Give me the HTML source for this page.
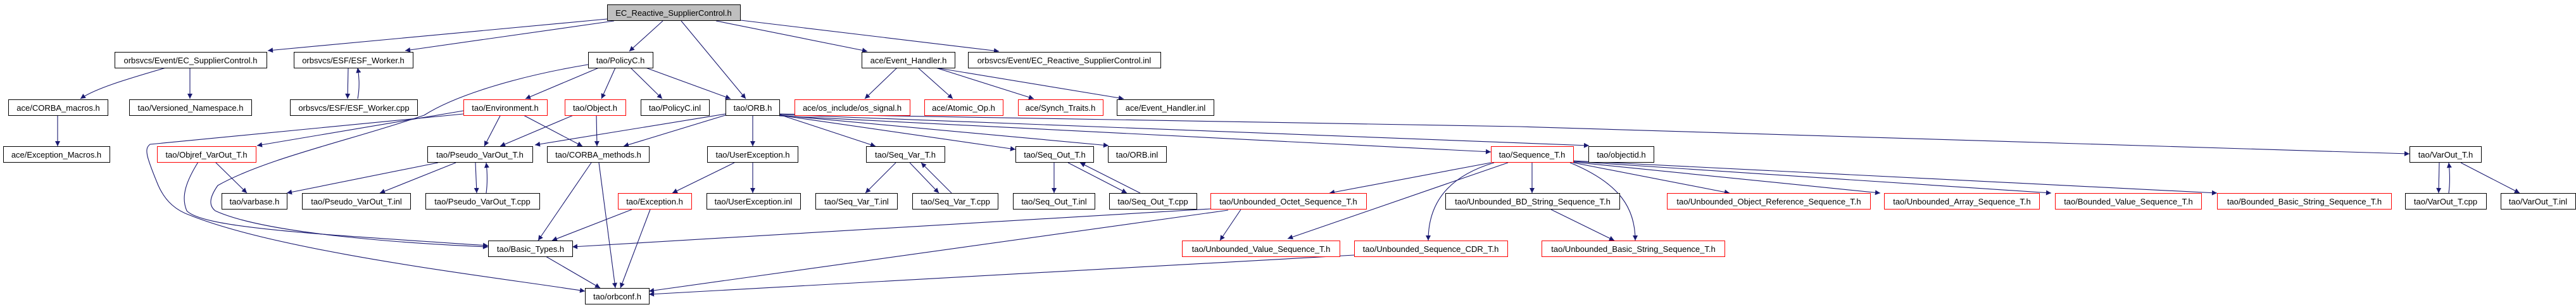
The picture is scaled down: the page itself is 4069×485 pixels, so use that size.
<!DOCTYPE html>
<html><head><meta charset="utf-8"><style>
html,body{margin:0;padding:0;background:#fff;}
svg{display:block;}
text{font-family:"Liberation Sans",sans-serif;font-size:13px;fill:#000;}
.e{fill:none;stroke:#191970;stroke-width:1.1;}
</style></head><body>
<svg width="4069" height="485" viewBox="0 0 4069 485" xmlns="http://www.w3.org/2000/svg">
<defs><marker id="a" viewBox="0 0 10 10" refX="10" refY="5" markerWidth="10" markerHeight="8" markerUnits="userSpaceOnUse" orient="auto"><path d="M0,0 L10,5 L0,10 z" fill="#191970"/></marker></defs>
<g marker-end="url(#a)">
<path class="e" d="M959,30 L423,80"/>
<path class="e" d="M970,33 L640,80"/>
<path class="e" d="M1047,33 L994,81"/>
<path class="e" d="M1076,33 L1178,156"/>
<path class="e" d="M1131,33 L1370,81"/>
<path class="e" d="M1170,32 L1578,81"/>
<path class="e" d="M262,107 C200,125 150,140 127,156"/>
<path class="e" d="M300,107 L300,156"/>
<path class="e" d="M91,181 L91,231"/>
<path class="e" d="M550,107 L549,156"/>
<path class="e" d="M565,156 C568,140 568,125 565,107"/>
<path class="e" d="M946,107 L830,156"/>
<path class="e" d="M972,107 L950,156"/>
<path class="e" d="M996,107 L1046,156"/>
<path class="e" d="M1020,107 L1154,156"/>
<path class="e" d="M929,102 C820,120 720,150 670,182 C560,220 420,250 344,293 C330,313 330,325 340,333 C420,370 650,385 771,390"/>
<path class="e" d="M732,175 L406,230"/>
<path class="e" d="M732,180 L237,228 C228,235 230,245 250,293 C262,320 280,333 300,340 C450,400 800,440 924,460"/>
<path class="e" d="M340,256 L390,305"/>
<path class="e" d="M313,256 C295,285 285,310 295,333 C320,360 500,370 771,388"/>
<path class="e" d="M791,181 L765,231"/>
<path class="e" d="M825,181 L920,231"/>
<path class="e" d="M908,181 L790,231"/>
<path class="e" d="M942,181 L943,231"/>
<path class="e" d="M1146,180 L845,229"/>
<path class="e" d="M1146,182 L985,231"/>
<path class="e" d="M1189,181 L1189,231"/>
<path class="e" d="M1231,181 L1383,231"/>
<path class="e" d="M1231,182 L1604,236"/>
<path class="e" d="M1231,182 L1751,230"/>
<path class="e" d="M1231,183 L2355,240"/>
<path class="e" d="M1231,181 L2510,230"/>
<path class="e" d="M1231,180 L2400,200 L3806,243"/>
<path class="e" d="M692,257 L453,305"/>
<path class="e" d="M720,257 L600,305"/>
<path class="e" d="M751,257 L753,305"/>
<path class="e" d="M768,305 C770,290 770,275 768,257"/>
<path class="e" d="M934,257 L850,380"/>
<path class="e" d="M946,257 L972,455"/>
<path class="e" d="M1160,257 L1062,305"/>
<path class="e" d="M1189,257 L1189,305"/>
<path class="e" d="M998,331 L872,380"/>
<path class="e" d="M1027,331 L980,455"/>
<path class="e" d="M862,405 L948,455"/>
<path class="e" d="M1415,257 L1367,305"/>
<path class="e" d="M1437,257 L1483,305"/>
<path class="e" d="M1503,305 L1455,257"/>
<path class="e" d="M1665,257 L1665,305"/>
<path class="e" d="M1687,257 L1780,305"/>
<path class="e" d="M1801,305 L1706,257"/>
<path class="e" d="M1417,107 L1366,156"/>
<path class="e" d="M1450,107 L1505,156"/>
<path class="e" d="M1478,107 L1633,156"/>
<path class="e" d="M1478,107 L1775,156"/>
<path class="e" d="M1912,330 L904,390"/>
<path class="e" d="M1940,332 L1025,460"/>
<path class="e" d="M2139,403 L1025,465"/>
<path class="e" d="M1960,331 L1927,380"/>
<path class="e" d="M2355,257 L2100,305"/>
<path class="e" d="M2382,257 L2034,377"/>
<path class="e" d="M2360,257 C2300,275 2256,310 2256,380"/>
<path class="e" d="M2420,257 L2420,305"/>
<path class="e" d="M2480,257 C2560,290 2583,330 2583,380"/>
<path class="e" d="M2485,257 L2732,305"/>
<path class="e" d="M2485,256 L2970,305"/>
<path class="e" d="M2485,255 L3240,305"/>
<path class="e" d="M2485,254 L3502,305"/>
<path class="e" d="M2450,331 L2550,380"/>
<path class="e" d="M3853,257 L3852,305"/>
<path class="e" d="M3868,305 C3870,290 3870,275 3868,257"/>
<path class="e" d="M3887,257 L3980,305"/>
</g>
<g fill="#fff" stroke-width="1">
<rect x="959.5" y="7.5" width="210" height="25" fill="#bfbfbf" stroke="#000"/>
<rect x="181.5" y="82.5" width="240" height="25" stroke="#000"/>
<rect x="464.5" y="82.5" width="188" height="25" stroke="#000"/>
<rect x="929.5" y="82.5" width="102" height="25" stroke="#000"/>
<rect x="1361.5" y="82.5" width="147" height="25" stroke="#000"/>
<rect x="1529.5" y="82.5" width="304" height="25" stroke="#000"/>
<rect x="13.5" y="157.5" width="157" height="25" stroke="#000"/>
<rect x="204.5" y="157.5" width="193" height="25" stroke="#000"/>
<rect x="458.5" y="157.5" width="201" height="25" stroke="#000"/>
<rect x="732.5" y="157.5" width="132" height="25" stroke="#f00"/>
<rect x="892.5" y="157.5" width="96" height="25" stroke="#f00"/>
<rect x="1012.5" y="157.5" width="108" height="25" stroke="#000"/>
<rect x="1146.5" y="157.5" width="85" height="25" stroke="#000"/>
<rect x="1255.5" y="157.5" width="182" height="25" stroke="#f00"/>
<rect x="1460.5" y="157.5" width="124" height="25" stroke="#f00"/>
<rect x="1608.5" y="157.5" width="134" height="25" stroke="#f00"/>
<rect x="1764.5" y="157.5" width="153" height="25" stroke="#000"/>
<rect x="5.5" y="231.5" width="168" height="25" stroke="#000"/>
<rect x="248.5" y="231.5" width="156" height="25" stroke="#f00"/>
<rect x="675.5" y="231.5" width="166" height="25" stroke="#000"/>
<rect x="864.5" y="231.5" width="161" height="25" stroke="#000"/>
<rect x="1117.5" y="231.5" width="143" height="25" stroke="#000"/>
<rect x="1368.5" y="231.5" width="124" height="25" stroke="#000"/>
<rect x="1604.5" y="231.5" width="123" height="25" stroke="#000"/>
<rect x="1750.5" y="231.5" width="92" height="25" stroke="#000"/>
<rect x="2355.5" y="231.5" width="130" height="25" stroke="#f00"/>
<rect x="2509.5" y="231.5" width="103" height="25" stroke="#000"/>
<rect x="3806.5" y="231.5" width="113" height="25" stroke="#000"/>
<rect x="350.5" y="305.5" width="103" height="25" stroke="#000"/>
<rect x="477.5" y="305.5" width="171" height="25" stroke="#000"/>
<rect x="672.5" y="305.5" width="180" height="25" stroke="#000"/>
<rect x="976.5" y="305.5" width="116" height="25" stroke="#f00"/>
<rect x="1116.5" y="305.5" width="148" height="25" stroke="#000"/>
<rect x="1288.5" y="305.5" width="129" height="25" stroke="#000"/>
<rect x="1441.5" y="305.5" width="135" height="25" stroke="#000"/>
<rect x="1600.5" y="305.5" width="129" height="25" stroke="#000"/>
<rect x="1752.5" y="305.5" width="138" height="25" stroke="#000"/>
<rect x="1912.5" y="305.5" width="246" height="25" stroke="#f00"/>
<rect x="2283.5" y="305.5" width="275" height="25" stroke="#000"/>
<rect x="2633.5" y="305.5" width="321" height="25" stroke="#f00"/>
<rect x="2976.5" y="305.5" width="245" height="25" stroke="#f00"/>
<rect x="3246.5" y="305.5" width="231" height="25" stroke="#f00"/>
<rect x="3502.5" y="305.5" width="275" height="25" stroke="#f00"/>
<rect x="3799.5" y="305.5" width="128" height="25" stroke="#000"/>
<rect x="3950.5" y="305.5" width="118" height="25" stroke="#000"/>
<rect x="771.5" y="380.5" width="133" height="25" stroke="#000"/>
<rect x="1867.5" y="380.5" width="249" height="25" stroke="#f00"/>
<rect x="2139.5" y="380.5" width="242" height="25" stroke="#f00"/>
<rect x="2435.5" y="380.5" width="289" height="25" stroke="#f00"/>
<rect x="924.5" y="455.5" width="101" height="25" stroke="#000"/>
</g>
<g text-anchor="middle">
<text x="1064" y="25">EC_Reactive_SupplierControl.h</text>
<text x="301" y="100">orbsvcs/Event/EC_SupplierControl.h</text>
<text x="558" y="100">orbsvcs/ESF/ESF_Worker.h</text>
<text x="980" y="100">tao/PolicyC.h</text>
<text x="1435" y="100">ace/Event_Handler.h</text>
<text x="1681" y="100">orbsvcs/Event/EC_Reactive_SupplierControl.inl</text>
<text x="92" y="175">ace/CORBA_macros.h</text>
<text x="301" y="175">tao/Versioned_Namespace.h</text>
<text x="559" y="175">orbsvcs/ESF/ESF_Worker.cpp</text>
<text x="798" y="175">tao/Environment.h</text>
<text x="940" y="175">tao/Object.h</text>
<text x="1066" y="175">tao/PolicyC.inl</text>
<text x="1189" y="175">tao/ORB.h</text>
<text x="1346" y="175">ace/os_include/os_signal.h</text>
<text x="1522" y="175">ace/Atomic_Op.h</text>
<text x="1675" y="175">ace/Synch_Traits.h</text>
<text x="1841" y="175">ace/Event_Handler.inl</text>
<text x="89" y="249">ace/Exception_Macros.h</text>
<text x="326" y="249">tao/Objref_VarOut_T.h</text>
<text x="758" y="249">tao/Pseudo_VarOut_T.h</text>
<text x="945" y="249">tao/CORBA_methods.h</text>
<text x="1189" y="249">tao/UserException.h</text>
<text x="1430" y="249">tao/Seq_Var_T.h</text>
<text x="1666" y="249">tao/Seq_Out_T.h</text>
<text x="1796" y="249">tao/ORB.inl</text>
<text x="2420" y="249">tao/Sequence_T.h</text>
<text x="2561" y="249">tao/objectid.h</text>
<text x="3863" y="249">tao/VarOut_T.h</text>
<text x="402" y="323">tao/varbase.h</text>
<text x="563" y="323">tao/Pseudo_VarOut_T.inl</text>
<text x="762" y="323">tao/Pseudo_VarOut_T.cpp</text>
<text x="1034" y="323">tao/Exception.h</text>
<text x="1190" y="323">tao/UserException.inl</text>
<text x="1353" y="323">tao/Seq_Var_T.inl</text>
<text x="1509" y="323">tao/Seq_Var_T.cpp</text>
<text x="1665" y="323">tao/Seq_Out_T.inl</text>
<text x="1821" y="323">tao/Seq_Out_T.cpp</text>
<text x="2035" y="323">tao/Unbounded_Octet_Sequence_T.h</text>
<text x="2421" y="323">tao/Unbounded_BD_String_Sequence_T.h</text>
<text x="2794" y="323">tao/Unbounded_Object_Reference_Sequence_T.h</text>
<text x="3099" y="323">tao/Unbounded_Array_Sequence_T.h</text>
<text x="3362" y="323">tao/Bounded_Value_Sequence_T.h</text>
<text x="3640" y="323">tao/Bounded_Basic_String_Sequence_T.h</text>
<text x="3863" y="323">tao/VarOut_T.cpp</text>
<text x="4009" y="323">tao/VarOut_T.inl</text>
<text x="838" y="398">tao/Basic_Types.h</text>
<text x="1992" y="398">tao/Unbounded_Value_Sequence_T.h</text>
<text x="2260" y="398">tao/Unbounded_Sequence_CDR_T.h</text>
<text x="2580" y="398">tao/Unbounded_Basic_String_Sequence_T.h</text>
<text x="975" y="473">tao/orbconf.h</text>
</g>
</svg>
</body></html>
